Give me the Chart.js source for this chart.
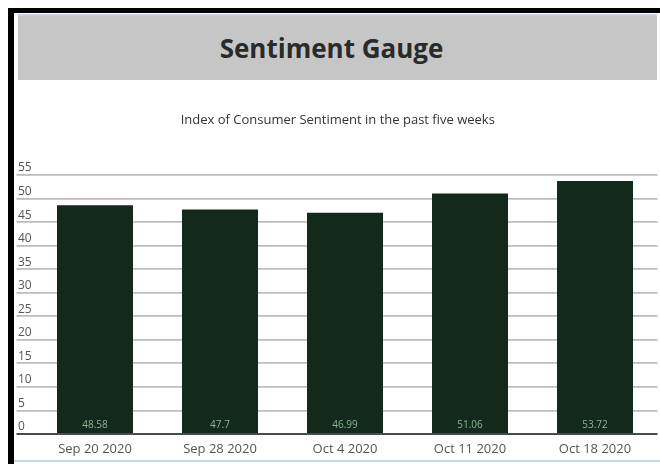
<!DOCTYPE html>
<html>
<head>
<meta charset="utf-8">
<title>Sentiment Gauge</title>
<script src="https://cdn.jsdelivr.net/npm/chart.js@4/dist/chart.umd.min.js"></script>
<style>
  html, body { margin: 0; padding: 0; background: #fff; overflow: hidden; }
  body { width: 660px; height: 464px; position: relative; font-family: "Open Sans", sans-serif; }
  .edge-left { position: absolute; left: 8px; top: 8px; width: 6px; height: 456px; background: #000; }
  .edge-top { position: absolute; left: 8px; top: 8px; width: 652px; height: 5px; background: #000; }
  .header { position: absolute; left: 18px; top: 14px; width: 639px; height: 66px; background: #c6c6c6;
            border-top: 2px solid #c9d0e0; box-sizing: border-box; padding-right: 12px;
            display: flex; align-items: center; justify-content: center; }
  .header h1 { margin: 0; font-size: 26px; font-weight: 700; color: #2a2a2a; }
  .footer-line { position: absolute; left: 14px; width: 646px; top: 460px; height: 2px; background: #c9d6ea; }
  .chart-box { position: absolute; left: 14px; top: 86px; width: 646px; height: 374px; }
</style>
</head>
<body>
<div class="edge-left"></div>
<div class="edge-top"></div>
<div class="header"><h1>Sentiment Gauge</h1></div>
<div class="chart-box"><canvas id="sentimentChart"></canvas></div>
<div class="footer-line"></div>

<script>
// Weekly readings of the consumer sentiment index
const weeks = ["Sep 20 2020", "Sep 28 2020", "Oct 4 2020", "Oct 11 2020", "Oct 18 2020"];
const sentimentValues = [48.58, 47.7, 46.99, 51.06, 53.72];
const yTicks = [0, 5, 10, 15, 20, 25, 30, 35, 40, 45, 50, 55];

const barColor = "#13291c";

// Writes each value near the foot of its bar
const barValueLabels = {
    id: "barValueLabels",
    afterDatasetsDraw(chart) {
        const ctx = chart.ctx;
        const meta = chart.getDatasetMeta(0);
        ctx.save();
        ctx.font = "10px 'Open Sans'";
        ctx.fillStyle = "#8db592";
        ctx.textAlign = "center";
        ctx.textBaseline = "middle";
        meta.data.forEach((bar, i) => {
            ctx.fillText(String(sentimentValues[i]), bar.x, chart.chartArea.bottom - 9);
        });
        ctx.restore();
    }
};

document.addEventListener("DOMContentLoaded", function () {
    const canvas = document.getElementById("sentimentChart");

    new Chart(canvas, {
        type: "bar",
        data: {
            labels: weeks,
            datasets: [
                {
                    label: "Index of Consumer Sentiment",
                    data: sentimentValues,
                    backgroundColor: barColor,
                    borderWidth: 0,
                    barPercentage: 0.76,
                    categoryPercentage: 0.8
                }
            ]
        },
        options: {
            responsive: true,
            maintainAspectRatio: false,
            animation: false,
            layout: { padding: { left: 4, right: 2.5, top: 0, bottom: 0 } },
            plugins: {
                legend: { display: false },
                tooltip: { enabled: false },
                title: {
                    display: true,
                    text: "Index of Consumer Sentiment in the past five weeks",
                    color: "#333",
                    font: { family: "'Open Sans'", size: 13, weight: "normal", lineHeight: 1.2 },
                    padding: { top: 26, bottom: 47.4 }
                }
            },
            scales: {
                x: {
                    grid: { display: false, drawTicks: false },
                    border: { display: false },
                    ticks: {
                        color: "#555",
                        font: { family: "'Open Sans'", size: 13 },
                        padding: 7,
                        maxRotation: 0,
                        autoSkip: false
                    },
                    afterFit(scale) { scale.height = 26; }
                },
                y: {
                    min: 0,
                    max: yTicks[yTicks.length - 1],
                    afterBuildTicks(scale) {
                        scale.ticks = yTicks.map((v) => ({ value: v }));
                    },
                    grid: {
                        color: (c) => (c.tick && c.tick.value === 0 ? "#4a4a4a" : "#bdbdbd"),
                        lineWidth: (c) => (c.tick && c.tick.value === 0 ? 2 : 1.8),
                        tickLength: 16,
                        drawTicks: true
                    },
                    border: { display: false },
                    ticks: {
                        color: "#555",
                        font: { family: "'Open Sans'", size: 12 },
                        crossAlign: "far",
                        labelOffset: -7,
                        padding: 0
                    },
                    afterFit(scale) { scale.width = 14.5; }
                }
            }
        },
        plugins: [barValueLabels]
    });
});
</script>
</body>
</html>
